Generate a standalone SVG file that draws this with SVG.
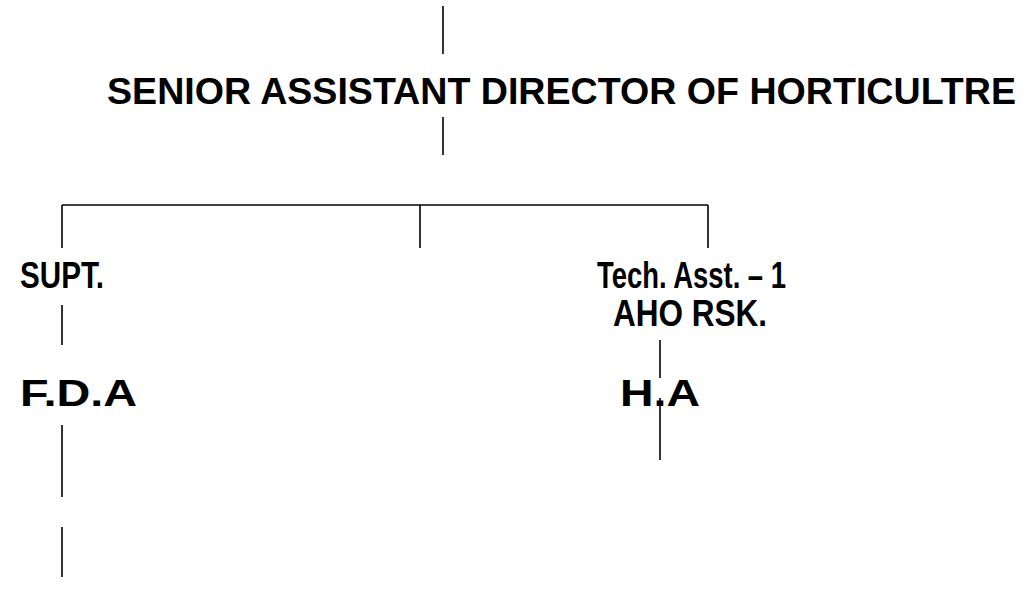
<svg xmlns="http://www.w3.org/2000/svg" width="1031" height="607" viewBox="0 0 1031 607">
<style>
.t{font-family:"Liberation Sans",Arial,sans-serif;font-weight:bold;font-size:37px;fill:#000}
.c line{stroke:#000;stroke-width:1.6}
</style>
<rect width="1031" height="607" fill="#fff"/>
<g class="c" id="connectors">
<line x1="443" y1="6" x2="443" y2="54"/>
<line x1="443" y1="117" x2="443" y2="155"/>
<line x1="62" y1="205" x2="708" y2="205"/>
<line x1="62" y1="205" x2="62" y2="248"/>
<line x1="420" y1="205" x2="420" y2="248"/>
<line x1="708" y1="205" x2="708" y2="248"/>
<line x1="62" y1="305" x2="62" y2="345"/>
<line x1="62" y1="425" x2="62" y2="497"/>
<line x1="62" y1="527" x2="62" y2="577"/>
<line x1="660" y1="340" x2="660" y2="378"/>
<line x1="660" y1="398" x2="660" y2="460"/>
</g>
<g id="n-sadh"><text class="t" x="107" y="104" textLength="909" lengthAdjust="spacingAndGlyphs">SENIOR ASSISTANT DIRECTOR OF HORTICULTRE</text></g>
<g id="n-supt"><text class="t" x="20" y="288" textLength="84" lengthAdjust="spacingAndGlyphs">SUPT.</text></g>
<g id="n-tech"><text class="t" x="597" y="288" textLength="189" lengthAdjust="spacingAndGlyphs">Tech. Asst. – 1</text><text class="t" x="613" y="326" textLength="154" lengthAdjust="spacingAndGlyphs">AHO RSK.</text></g>
<g id="n-fda"><text class="t" x="20" y="406" textLength="117" lengthAdjust="spacingAndGlyphs">F.D.A</text></g>
<g id="n-ha"><text class="t" x="620" y="406" textLength="80" lengthAdjust="spacingAndGlyphs">H.A</text></g>
</svg>
